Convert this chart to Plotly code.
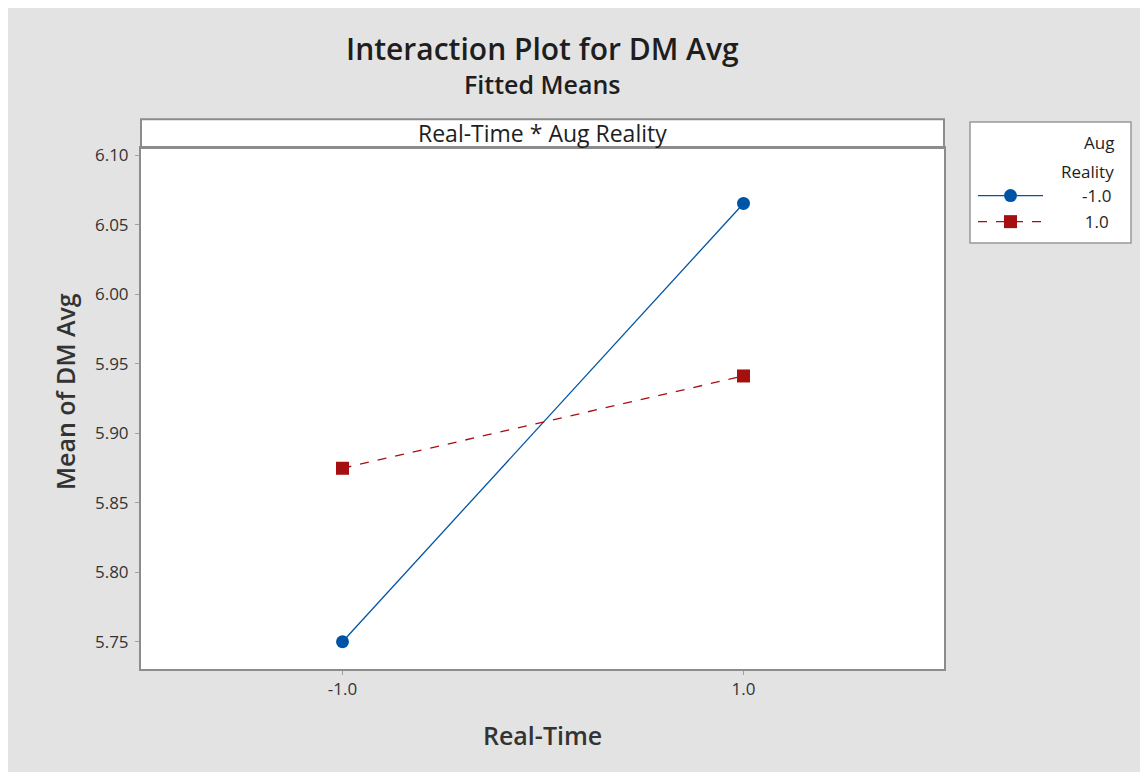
import plotly.graph_objects as go

real_time = [-1.0, 1.0]
tick_labels_x = ["-1.0", "1.0"]
aug_reality_levels = ["-1.0", "1.0"]
mean_ar_neg = [5.750, 6.0653]
mean_ar_pos = [5.8748, 5.9412]
y_ticks = [5.75, 5.80, 5.85, 5.90, 5.95, 6.00, 6.05, 6.10]

FONT = "Open Sans"
BLUE = "#0054A6"
RED = "#A50F0F"
TXT = "#1e1e1e"

# page has an 8px body margin; figure is sized to fill the rest
OFF = 8
W, H = 1148 - OFF, 772 - OFF
ml, mr, mt, mb = 133, 204, 140, 103
plot_w = W - ml - mr
plot_h = H - mt - mb
px = lambda x: (x - OFF - ml) / plot_w
py = lambda y: (H - mb - (y - OFF)) / plot_h

# legend labels right-aligned with en/thin spaces
legend_names = ["\u2002" * 4 + aug_reality_levels[0],
                "\u2002" * 4 + "\u2009" + aug_reality_levels[1]]

fig = go.Figure()
fig.add_trace(go.Scatter(
    x=real_time, y=mean_ar_neg, name=legend_names[0], mode="lines+markers",
    legendgroup="a",
    line=dict(color=BLUE, width=1.3),
    marker=dict(symbol="circle", size=13, color=BLUE),
))
fig.add_trace(go.Scatter(
    x=real_time, y=mean_ar_pos, name=legend_names[1], mode="lines+markers",
    legendgroup="b",
    line=dict(color=RED, width=1.3, dash="dash"),
    marker=dict(symbol="square", size=13, color=RED),
))

fig.update_layout(
    width=W, height=H,
    margin=dict(l=ml, r=mr, t=mt, b=mb),
    paper_bgcolor="#e3e3e3",
    plot_bgcolor="white",
    font=dict(family=FONT, color=TXT),
    showlegend=True,
    legend=dict(
        x=px(973), y=py(178), xanchor="left", yanchor="top",
        bgcolor="rgba(0,0,0,0)", borderwidth=0,
        font=dict(size=17, family=FONT, color=TXT),
        itemwidth=65, tracegroupgap=1, traceorder="grouped",
    ),
    xaxis=dict(
        range=[-2.005, 2.0], tickvals=real_time, ticktext=tick_labels_x,
        showgrid=False, zeroline=False, showline=True, linecolor="#8c8c8c", linewidth=2, mirror=True,
        ticks="outside", ticklen=4, tickcolor="#a0a0a0", tickfont=dict(size=17, color="#333"),
        ticklabelstandoff=0,
    ),
    yaxis=dict(
        range=[5.7304, 6.1052], tickvals=y_ticks, ticktext=[f"{v:.2f}" for v in y_ticks],
        showgrid=False, zeroline=False, showline=True, linecolor="#8c8c8c", linewidth=2, mirror=True,
        ticks="outside", ticklen=4, tickcolor="#a0a0a0", tickfont=dict(size=17, color="#333"),
        ticklabelstandoff=3,
    ),
)

# strip header above plot area
fig.add_shape(type="rect", xref="paper", yref="paper", x0=0, x1=1, y0=1, y1=py(119.3),
              fillcolor="white", line=dict(color="#8c8c8c", width=2), layer="below")
fig.add_annotation(text="Real-Time * Aug Reality", xref="paper", yref="paper", x=0.5, y=py(133),
                   showarrow=False, font=dict(size=23, color=TXT), yanchor="middle")

# titles
fig.add_annotation(text="Interaction Plot for DM Avg", xref="paper", yref="paper",
                   x=0.5, y=py(48), yanchor="middle", showarrow=False,
                   font=dict(size=30, color=TXT, family=FONT, weight=600))
fig.add_annotation(text="Fitted Means", xref="paper", yref="paper",
                   x=0.5, y=py(84), yanchor="middle", showarrow=False,
                   font=dict(size=25, color=TXT, family=FONT, weight=600))

# axis titles
fig.add_annotation(text="Mean of DM Avg", xref="paper", yref="paper",
                   x=px(65), y=py(392), xanchor="center", yanchor="middle", textangle=-90,
                   showarrow=False, font=dict(size=25, color="#333", family=FONT, weight=600))
fig.add_annotation(text="Real-Time", xref="paper", yref="paper",
                   x=px(542), y=py(735), xanchor="center", yanchor="middle",
                   showarrow=False, font=dict(size=25, color="#333", family=FONT, weight=600))

# legend box and title
fig.add_shape(type="rect", xref="paper", yref="paper", x0=px(970), x1=px(1131),
              y0=py(243), y1=py(122), fillcolor="white",
              line=dict(color="#999", width=1.5), layer="below")
fig.add_annotation(text="Aug", xref="paper", yref="paper", x=px(1116), y=py(143),
                   xanchor="right", yanchor="middle", showarrow=False,
                   font=dict(size=17, color=TXT))
fig.add_annotation(text="Reality", xref="paper", yref="paper", x=px(1116), y=py(171),
                   xanchor="right", yanchor="middle", showarrow=False,
                   font=dict(size=17, color=TXT))

fig.write_html("out.html")
